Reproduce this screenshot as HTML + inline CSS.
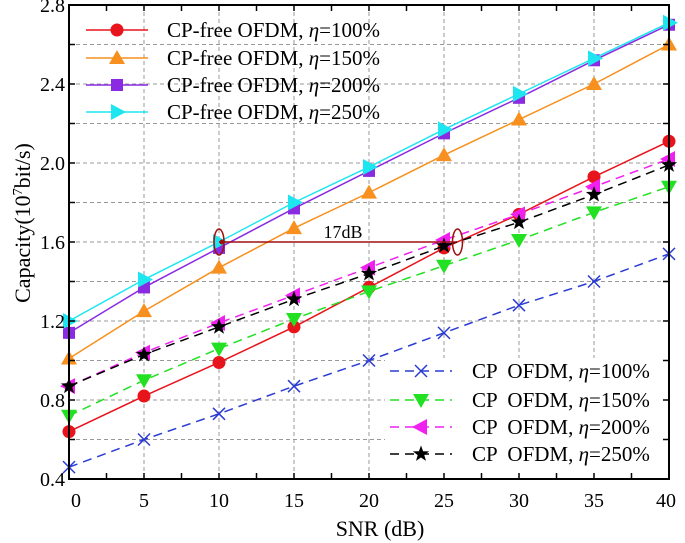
<!DOCTYPE html>
<html><head><meta charset="utf-8"><style>
body{margin:0;background:#fff;}
svg{display:block;font-family:"Liberation Serif",serif;}
</style></head><body>
<svg id="chart" width="685" height="543" viewBox="0 0 685 543" xmlns="http://www.w3.org/2000/svg">
<g id="grid"></g>
<g id="series"></g>
<g id="annot"></g>
<g id="legend"></g>
<g id="axes"></g>
</svg>
<script>
const snr = [0,5,10,15,20,25,30,35,40];
const xTicks = [0,5,10,15,20,25,30,35,40];
const yTicks = [0.4,0.8,1.2,1.6,2.0,2.4,2.8];
const yTickLabels = ["0.4","0.8","1.2","1.6","2.0","2.4","2.8"];
const cpfree100 = [0.64,0.82,0.99,1.17,1.37,1.57,1.74,1.93,2.11];
const cpfree150 = [1.01,1.25,1.47,1.67,1.85,2.04,2.22,2.40,2.60];
const cpfree200 = [1.14,1.37,1.57,1.77,1.96,2.15,2.33,2.52,2.70];
const cpfree250 = [1.20,1.41,1.60,1.80,1.98,2.17,2.35,2.53,2.71];
const cp100 = [0.46,0.60,0.73,0.87,1.00,1.14,1.28,1.40,1.54];
const cp150 = [0.72,0.90,1.06,1.21,1.35,1.48,1.61,1.75,1.88];
const cp200 = [0.87,1.04,1.19,1.33,1.47,1.61,1.74,1.88,2.02];
const cp250 = [0.87,1.03,1.17,1.31,1.44,1.58,1.70,1.84,1.99];
const seriesLabels = ["CP-free OFDM, ","CP-free OFDM, ","CP-free OFDM, ","CP-free OFDM, ","CP  OFDM, ","CP  OFDM, ","CP  OFDM, ","CP  OFDM, "];
const etaLabels = ["=100%","=150%","=200%","=250%","=100%","=150%","=200%","=250%"];

const L=69,R=669,T=5,B=479;
const X=v=>L+(v-0)/40*(R-L);
const Y=v=>B-(v-0.4)/2.4*(B-T);
const NS="http://www.w3.org/2000/svg";
function mk(tag,attrs,parent){const e=document.createElementNS(NS,tag);for(const k in attrs)e.setAttribute(k,attrs[k]);parent.appendChild(e);return e;}

const styles=[
 {d:cpfree100,c:"#e8141b",m:"circle",dash:"",mc:"#e8141b"},
 {d:cpfree150,c:"#f7901e",m:"up",dash:"",mc:"#f7901e"},
 {d:cpfree200,c:"#8a2be2",m:"square",dash:"",mc:"#8a2be2"},
 {d:cpfree250,c:"#1ee6f0",m:"right",dash:"",mc:"#1ee6f0"},
 {d:cp100,c:"#2a3bd4",m:"x",dash:"9,6",mc:"#2a3bd4"},
 {d:cp150,c:"#22e022",m:"down",dash:"9,6",mc:"#22e022"},
 {d:cp200,c:"#f020f0",m:"left",dash:"9,6",mc:"#f020f0"},
 {d:cp250,c:"#000",m:"star",dash:"9,6",mc:"#000"}
];
function marker(type,x,y,col,g){
 let e;
 if(type==="circle")e=mk("circle",{cx:x,cy:y,r:6.5,fill:col},g);
 else if(type==="square")e=mk("rect",{x:x-6,y:y-6,width:12,height:12,fill:col},g);
 else if(type==="up")e=mk("polygon",{points:`${x},${y-8} ${x+8},${y+6} ${x-8},${y+6}`,fill:col},g);
 else if(type==="down")e=mk("polygon",{points:`${x},${y+8} ${x+8},${y-6} ${x-8},${y-6}`,fill:col},g);
 else if(type==="right")e=mk("polygon",{points:`${x+9},${y} ${x-6},${y-8} ${x-6},${y+8}`,fill:col},g);
 else if(type==="left")e=mk("polygon",{points:`${x-9},${y} ${x+6},${y-8} ${x+6},${y+8}`,fill:col},g);
 else if(type==="x")e=mk("path",{d:`M${x-6},${y-6}L${x+6},${y+6}M${x-6},${y+6}L${x+6},${y-6}`,stroke:col,"stroke-width":1.5,fill:"none"},g);
 else {let p=[];for(let i=0;i<10;i++){const r=i%2?3.5:8.5,a=-Math.PI/2+i*Math.PI/5;p.push((x+r*Math.cos(a)).toFixed(1)+","+(y+r*Math.sin(a)).toFixed(1));}e=mk("polygon",{points:p.join(" "),fill:col},g);}
 return e;
}

const grid=document.getElementById("grid");
for(let v=0.6;v<2.8;v+=0.2){const ln=mk("line",{x1:L,x2:R,y1:Y(v),y2:Y(v),stroke:"#999","stroke-dasharray":"4,3","stroke-width":1},grid);

}
xTicks.slice(1,-1).forEach(v=>{const ln=mk("line",{x1:X(v),x2:X(v),y1:T,y2:B,stroke:"#999","stroke-dasharray":"4,3","stroke-width":1},grid);

});

const sg=document.getElementById("series");
styles.forEach((s,i)=>{
 const g=mk("g",{},sg);
 
 
 mk("polyline",{points:s.d.map((v,j)=>X(snr[j])+","+Y(v)).join(" "),fill:"none",stroke:s.c,"stroke-width":1.5,"stroke-dasharray":s.dash},g);
 s.d.forEach((v,j)=>{const m=marker(s.m,X(snr[j]),Y(v),s.mc,g);
 
 });
});

const an=document.getElementById("annot");
mk("line",{x1:X(10),x2:X(25.8),y1:Y(1.6),y2:Y(1.6),stroke:"#a01010","stroke-width":1.5},an);
mk("circle",{cx:X(10)+3,cy:Y(1.6),r:2.5,fill:"#a01010"},an);
mk("ellipse",{cx:X(10),cy:Y(1.6),rx:5,ry:13,fill:"none",stroke:"#a01010","stroke-width":1.5},an);
mk("ellipse",{cx:X(25.9),cy:Y(1.6),rx:5,ry:13,fill:"none",stroke:"#a01010","stroke-width":1.5},an);
const t17=mk("text",{x:343,y:238,"font-size":18,"text-anchor":"middle"},an);t17.textContent="17dB";



const lg=document.getElementById("legend");
const bg=mk("rect",{x:385,y:358,width:R-385,height:B-358,fill:"#fff"},lg);


const rowsY=[30,58,85,112,371,400,427,454];
styles.forEach((s,i)=>{
 const g=mk("g",{},lg);
 
 
 const y=rowsY[i];
 const x1=i<4?86:390,x2=i<4?148:452,tx=i<4?167:472;
 mk("line",{x1:x1,x2:x2,y1:y,y2:y,stroke:s.c,"stroke-width":1.5,"stroke-dasharray":s.dash},g);
 marker(s.m,(x1+x2)/2,y,s.mc,g);
 const t=mk("text",{x:tx,y:y+7,"font-size":21},g);
 t.setAttribute('xml:space','preserve');
 t.style.whiteSpace='pre';
 t.textContent=seriesLabels[i];
 const e=mk("tspan",{"font-style":"italic"},t);e.textContent="η";
 const r=mk("tspan",{},t);r.textContent=etaLabels[i];
});

const ax=document.getElementById("axes");
const fr=mk("rect",{x:L,y:T,width:R-L,height:B-T,fill:"none",stroke:"#000","stroke-width":2},ax);


for(let v=0.4;v<=2.81;v+=0.2){mk("line",{x1:L,x2:L+6,y1:Y(v),y2:Y(v),stroke:"#000","stroke-width":1.5},ax);mk("line",{x1:R,x2:R-6,y1:Y(v),y2:Y(v),stroke:"#000","stroke-width":1.5},ax);}
for(let v=0;v<=40;v+=2.5){mk("line",{x1:X(v),x2:X(v),y1:B,y2:B-6,stroke:"#000","stroke-width":1.5},ax);mk("line",{x1:X(v),x2:X(v),y1:T,y2:T+6,stroke:"#000","stroke-width":1.5},ax);}
yTicks.forEach((v,i)=>{const t=mk("text",{x:L-4,y:Y(v)+7,"font-size":20,"text-anchor":"end"},ax);t.textContent=yTickLabels[i];

});
xTicks.forEach(v=>{const t=mk("text",{x:X(v)+(v===0?7:v===40?-3:0),y:507,"font-size":20,"text-anchor":"middle"},ax);t.textContent=v;

});
const xt=mk("text",{x:380,y:536,"font-size":22,"text-anchor":"middle"},ax);xt.textContent="SNR (dB)";


const yt=mk("text",{x:0,y:0,"font-size":22,"text-anchor":"middle",transform:"translate(30,223) rotate(-90)"},ax);
yt.textContent="Capacity(10";
const sup=mk("tspan",{"font-size":14,dy:-8},yt);sup.textContent="7";
const rest=mk("tspan",{dy:8},yt);rest.textContent="bit/s)";


</script>
</body></html>
